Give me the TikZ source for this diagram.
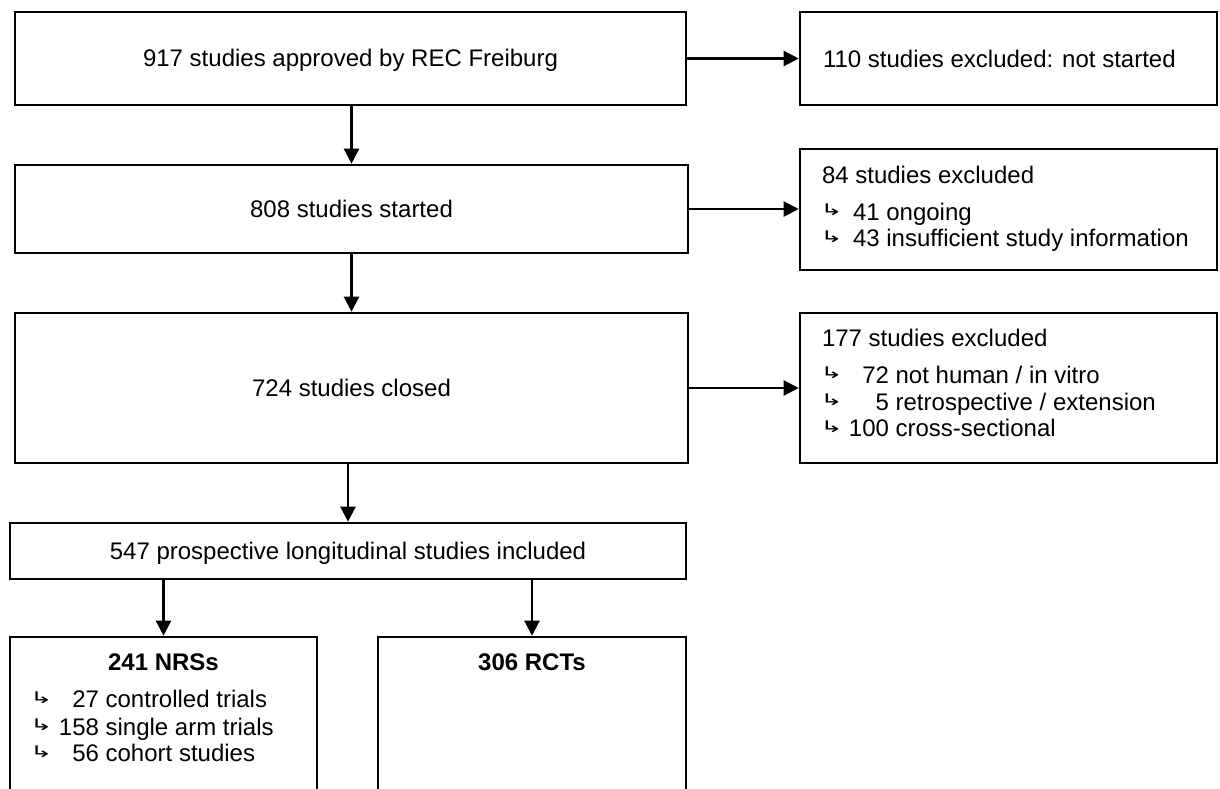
\documentclass[tikz,border=0pt]{standalone}
\usepackage{fontspec}
\usepackage{graphicx}
\setmainfont{Liberation Sans}
\newfontfamily\symfont{DejaVu Sans}
\usetikzlibrary{arrows.meta}
\newcommand{\hk}{\kern-3pt\raisebox{4.5pt}{\scalebox{1.7}[1]{\symfont\fontsize{16pt}{16pt}\selectfont ↳}}}
\begin{document}
\begin{tikzpicture}[x=1pt,y=-1pt,
  font=\fontsize{24pt}{28pt}\selectfont,
  box/.style={draw, line width=2.6pt, inner sep=0pt, text height=17pt, text depth=0pt},
  txt/.style={inner sep=0pt, outer sep=0pt},
  arr/.style={line width=2.3pt, -{Triangle[length=15pt,width=15pt]}}]
\fill[white] (0,0) rectangle (1220,789);
\clip (0,0) rectangle (1220,789);
% main column
\node[box, minimum width=671pt, minimum height=93pt] (b1) at (350.5,58.5) {917 studies approved by REC Freiburg};
\node[box, minimum width=673pt, minimum height=88pt] (b2) at (351.5,209) {808 studies started};
\node[box, minimum width=673pt, minimum height=150pt] (b3) at (351.5,388) {724 studies closed};
\node[box, minimum width=676pt, minimum height=56pt] (b4) at (348,551) {547 prospective longitudinal studies included};
% right column
\node[box, minimum width=417pt, minimum height=93pt] (r1) at (1008.5,58.5) {};
\node[box, minimum width=417pt, minimum height=121pt] (r2) at (1008.5,209.5) {};
\node[box, minimum width=417pt, minimum height=150pt] (r3) at (1008.5,388) {};
% bottom boxes
\node[box, minimum width=307pt, minimum height=170pt] (nrs) at (163.5,722) {};
\node[box, minimum width=308pt, minimum height=170pt] (rct) at (532,722) {};
% texts right column
\node[txt, anchor=base west] (r1t) at (823,67.5) {110 studies excluded: not started};
\node[txt, anchor=base west] (r2t) at (822,183.3) {84 studies excluded};
\node[txt, anchor=base west] (r2a) at (823,220) {\makebox[30pt][l]{\hk}41 ongoing};
\node[txt, anchor=base west] (r2b) at (823,246.7) {\makebox[30pt][l]{\hk}43 insufficient study information};
\node[txt, anchor=base west] (r3t) at (822,346.7) {177 studies excluded};
\node[txt, anchor=base west] (r3a) at (823,383.3) {\makebox[26pt][l]{\hk}\makebox[40pt][r]{72} not human / in vitro};
\node[txt, anchor=base west] (r3b) at (823,410) {\makebox[26pt][l]{\hk}\makebox[40pt][r]{5} retrospective / extension};
\node[txt, anchor=base west] (r3c) at (823,436.7) {\makebox[26pt][l]{\hk}\makebox[40pt][r]{100} cross-sectional};
% texts bottom
\node[txt, anchor=base] (nrst) at (163.5,670.7) {\bfseries 241 NRSs};
\node[txt, anchor=base west] (nrsa) at (33,707.7) {\makebox[26pt][l]{\hk}\makebox[40pt][r]{27} controlled trials};
\node[txt, anchor=base west] (nrsb) at (33,735) {\makebox[26pt][l]{\hk}\makebox[40pt][r]{158} single arm trials};
\node[txt, anchor=base west] (nrsc) at (33,761.7) {\makebox[26pt][l]{\hk}\makebox[40pt][r]{56} cohort studies};
\node[txt, anchor=base] (rctt) at (532,670.7) {\bfseries 306 RCTs};
% arrows
\draw[arr] (b2.north |- b1.south) -- (b2.north);
\draw[arr] (b2.south) -- (b3.north);
\draw[arr] (b4.north |- b3.south) -- (b4.north);
\draw[arr] (nrs.north |- b4.south) -- (nrs.north);
\draw[arr] (rct.north |- b4.south) -- (rct.north);
\draw[arr] (b1.east) -- (b1.east -| r1.west);
\draw[arr] (b2.east) -- (b2.east -| r2.west);
\draw[arr] (b3.east) -- (b3.east -| r3.west);
\end{tikzpicture}
\end{document}
